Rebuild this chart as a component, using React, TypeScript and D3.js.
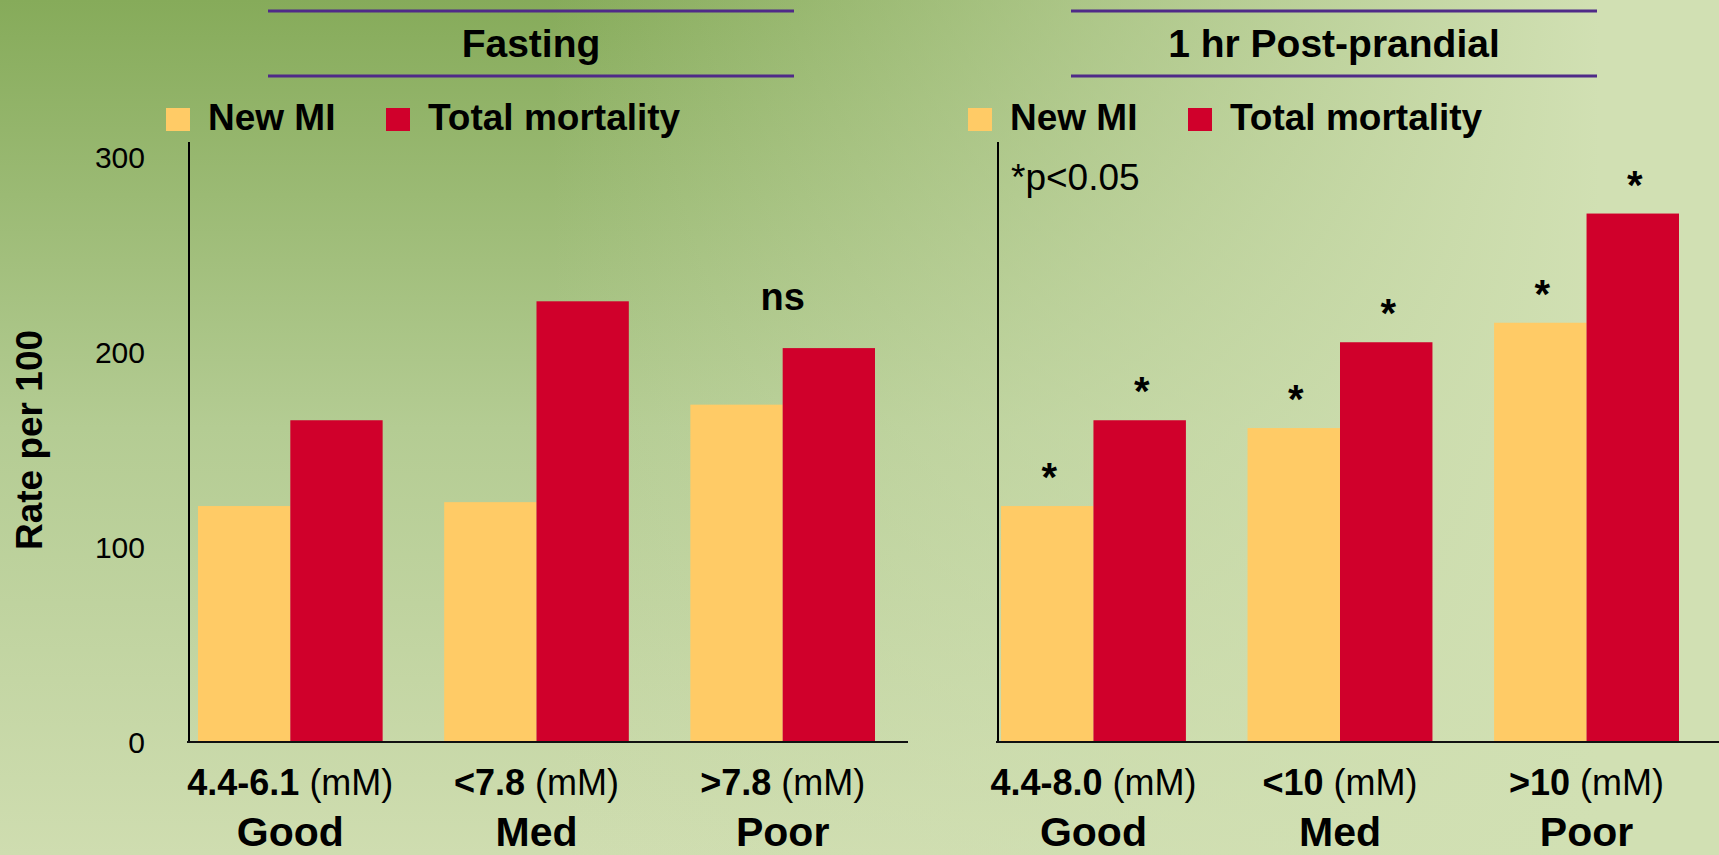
import React from "react";
import * as d3 from "d3";

// ---- data ----
const groups = ["Good", "Med", "Poor"];
const seriesNames = ["New MI", "Total mortality"];
const seriesColors = ["#ffcb66", "#d0002b"];

const fastingRanges = ["4.4-6.1", "<7.8", ">7.8"];
const fastingNewMI = [121, 123, 173];
const fastingMortality = [165, 226, 202];
const fastingGroupNotes = ["", "", "ns"];

const ppRanges = ["4.4-8.0", "<10", ">10"];
const ppNewMI = [121, 161, 215];
const ppMortality = [165, 205, 271];
const ppGroupNotes = ["", "", ""];

const yTicks = [0, 100, 200, 300];
const unitLabel = "(mM)";

const W = 1719;
const H = 855;
const FONT = "'Liberation Sans', Arial, Helvetica, sans-serif";

const y = d3.scaleLinear().domain([0, 300]).range([742, 157]);

type PanelProps = {
  title: string;
  titleX0: number;
  titleX1: number;
  legendX: number;
  axisX: number;
  axisEnd: number;
  bandRange: [number, number];
  ranges: string[];
  mi: number[];
  mort: number[];
  notes: string[];
  starEveryBar: boolean;
  pNote?: string;
  showTicks: boolean;
};

function Panel(p: PanelProps) {
  const x0 = d3.scaleBand<string>().domain(groups).range(p.bandRange).paddingInner(0.25).paddingOuter(0);
  const x1 = d3.scaleBand<string>().domain(seriesNames).range([0, x0.bandwidth()]);
  const values = [p.mi, p.mort];
  const top = y(300) - 15;

  return (
    <g>
      {/* header rules and title */}
      <line x1={p.titleX0} x2={p.titleX1} y1={11} y2={11} stroke="#4f2a88" strokeWidth={3} />
      <line x1={p.titleX0} x2={p.titleX1} y1={76} y2={76} stroke="#4f2a88" strokeWidth={3} />
      <text x={(p.titleX0 + p.titleX1) / 2} y={57} textAnchor="middle" fontSize={39} fontWeight="bold">
        {p.title}
      </text>

      {/* legend */}
      {seriesNames.map((s, i) => (
        <g key={s} transform={`translate(${p.legendX + i * 220},0)`}>
          <rect x={0} y={108} width={24} height={23} fill={seriesColors[i]} />
          <text x={42} y={130} fontSize={37} fontWeight="bold">
            {s}
          </text>
        </g>
      ))}

      {/* bars */}
      {groups.map((g, gi) => (
        <g key={g} transform={`translate(${x0(g)},0)`}>
          {seriesNames.map((s, si) => {
            const v = values[si][gi];
            const bx = x1(s)!;
            return (
              <g key={s}>
                <rect x={bx} y={y(v)} width={x1.bandwidth()} height={y(0) - y(v)} fill={seriesColors[si]} />
                {p.starEveryBar && (
                  <text x={bx + x1.bandwidth() / 2 + 2} y={y(v) - 15} textAnchor="middle" fontSize={40} fontWeight="bold">
                    *
                  </text>
                )}
              </g>
            );
          })}
          {p.notes[gi] && (
            <text
              x={x0.bandwidth() / 2}
              y={y(Math.max(p.mi[gi], p.mort[gi])) - 38}
              textAnchor="middle"
              fontSize={38}
              fontWeight="bold"
            >
              {p.notes[gi]}
            </text>
          )}
          {/* category labels */}
          <text x={x0.bandwidth() / 2} y={795} textAnchor="middle" fontSize={36}>
            <tspan fontWeight="bold">{p.ranges[gi]}</tspan>
            <tspan> {unitLabel}</tspan>
          </text>
          <text x={x0.bandwidth() / 2} y={846} textAnchor="middle" fontSize={41} fontWeight="bold">
            {g}
          </text>
        </g>
      ))}

      {/* axes */}
      <line x1={p.axisX} x2={p.axisX} y1={top} y2={y(0)} stroke="#000" strokeWidth={2} />
      <line x1={p.axisX - 2} x2={p.axisEnd} y1={y(0)} y2={y(0)} stroke="#111" strokeWidth={2} />
      {p.showTicks &&
        yTicks.map((t) => (
          <text key={t} x={145} y={y(t)} dy="0.36em" textAnchor="end" fontSize={30}>
            {t}
          </text>
        ))}
      {p.pNote && (
        <text x={p.axisX + 13} y={190} fontSize={37}>
          {p.pNote}
        </text>
      )}
    </g>
  );
}

export default function App() {
  return (
    <svg
      width={W}
      height={H}
      viewBox={`0 0 ${W} ${H}`}
      style={{ position: "fixed", left: 0, top: 0, display: "block" }}
      fontFamily={FONT}
    >
      <defs>
        <linearGradient id="bgV" x1="0" y1="0" x2="0" y2="1">
          <stop offset="0" stopColor="#86ab5a" />
          <stop offset="0.5" stopColor="#b4cc93" />
          <stop offset="1" stopColor="#cfddb0" />
        </linearGradient>
        <linearGradient id="bgH" gradientUnits="userSpaceOnUse" x1={550} y1={0} x2={1600} y2={0}>
          <stop offset="0" stopColor="#d1e0b3" stopOpacity={0} />
          <stop offset="1" stopColor="#d1e0b3" stopOpacity={1} />
        </linearGradient>
      </defs>
      <rect width={W} height={H} fill="url(#bgV)" />
      <rect width={W} height={H} fill="url(#bgH)" />

      <text
        transform={`translate(42,440) rotate(-90)`}
        textAnchor="middle"
        fontSize={37}
        fontWeight="bold"
      >
        Rate per 100
      </text>

      <Panel
        title="Fasting"
        titleX0={268}
        titleX1={794}
        legendX={166}
        axisX={189}
        axisEnd={908}
        bandRange={[198, 875]}
        ranges={fastingRanges}
        mi={fastingNewMI}
        mort={fastingMortality}
        notes={fastingGroupNotes}
        starEveryBar={false}
        showTicks={true}
      />
      <Panel
        title="1 hr Post-prandial"
        titleX0={1071}
        titleX1={1597}
        legendX={968}
        axisX={998}
        axisEnd={1719}
        bandRange={[1001, 1679]}
        ranges={ppRanges}
        mi={ppNewMI}
        mort={ppMortality}
        notes={ppGroupNotes}
        starEveryBar={true}
        pNote="*p<0.05"
        showTicks={false}
      />
    </svg>
  );
}
